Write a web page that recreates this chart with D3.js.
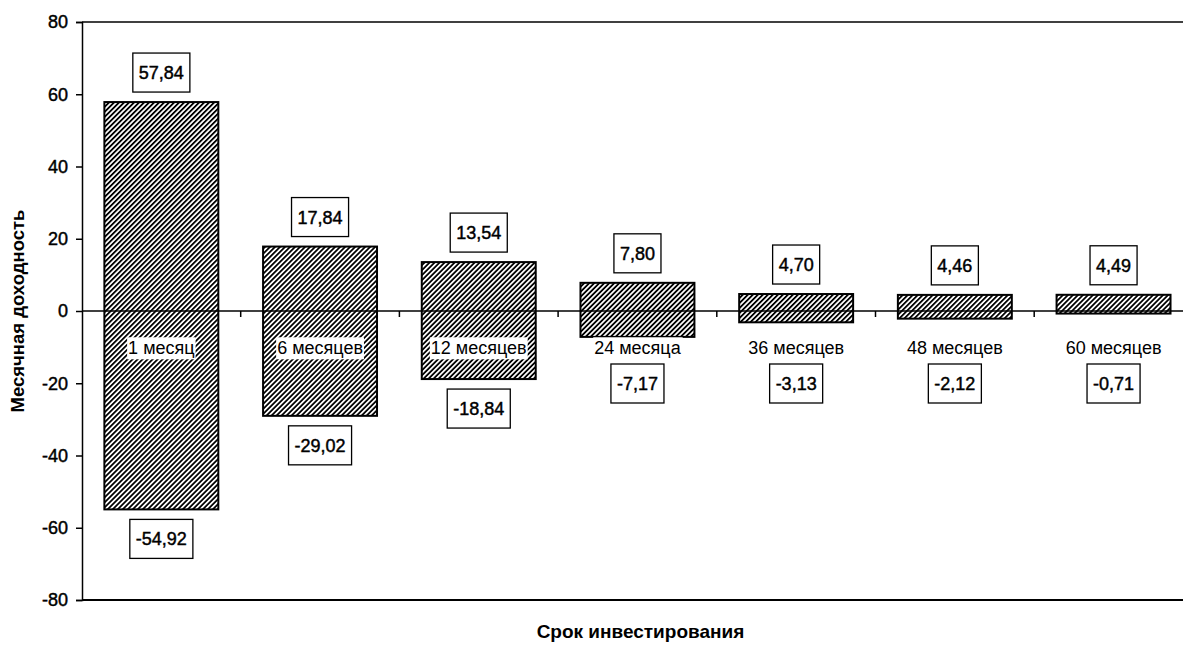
<!DOCTYPE html>
<html>
<head>
<meta charset="utf-8">
<script src="https://cdn.jsdelivr.net/npm/d3@7"></script>
<style>
  body { margin: 0; background: #fff; }
  svg { font-family: "Liberation Sans", Arial, sans-serif; display: block; }
</style>
</head>
<body>
<svg id="chart" width="1183" height="645"></svg>
<script>
// данные
var categories = ["1 месяц", "6 месяцев", "12 месяцев", "24 месяца", "36 месяцев", "48 месяцев", "60 месяцев"];
var maxValues = [57.84, 17.84, 13.54, 7.80, 4.70, 4.46, 4.49];
var minValues = [-54.92, -29.02, -18.84, -7.17, -3.13, -2.12, -0.71];
var yTicks = [-80, -60, -40, -20, 0, 20, 40, 60, 80];

var svg = d3.select("#chart");
var width = +svg.attr("width");
var height = +svg.attr("height");

var padding = { top: 22, bottom: 45, left: 82 };
var plotRight = padding.left + 7 * 158.7; // область построения выходит за край картинки

var data = categories.map(function(c, i){
    return { cat: c, max: maxValues[i], min: minValues[i] };
});

var xScale = d3.scaleBand()
    .domain(categories)
    .range([padding.left, plotRight])
    .paddingInner(0.282)
    .paddingOuter(0.141);

var yScale = d3.scaleLinear()
    .domain([-80, 80])
    .range([height - padding.bottom, padding.top]);

var fmt = function(v){ return v.toFixed(2).replace(".", ","); };

// штриховка
var defs = svg.append("defs");
var pat = defs.append("pattern")
    .attr("id", "hatch")
    .attr("patternUnits", "userSpaceOnUse")
    .attr("width", 3.54)
    .attr("height", 3.54)
    .attr("patternTransform", "rotate(45)");
pat.append("rect").attr("width", 3.54).attr("height", 3.54).attr("fill", "#fff");
pat.append("rect").attr("width", 1.8).attr("height", 3.54).attr("fill", "#000");

// рамка области построения (верх и низ)
svg.append("line")
    .attr("x1", padding.left).attr("x2", plotRight)
    .attr("y1", yScale(80)).attr("y2", yScale(80))
    .attr("stroke", "#404040").attr("stroke-width", 2);
svg.append("line")
    .attr("x1", padding.left).attr("x2", plotRight)
    .attr("y1", yScale(-80)).attr("y2", yScale(-80))
    .attr("stroke", "#000").attr("stroke-width", 2);

// ось Y
var yAxis = d3.axisLeft(yScale)
    .tickValues(yTicks)
    .tickSize(6)
    .tickPadding(8)
    .tickFormat(function(d){ return String(d); }); // дефис, а не юникодный минус
var gy = svg.append("g")
    .attr("transform", "translate(" + padding.left + ",0)")
    .call(yAxis);
gy.select(".domain").attr("stroke", "#000").attr("stroke-width", 1.5);
gy.selectAll(".tick line").attr("stroke", "#000").attr("stroke-width", 1.5);
gy.selectAll(".tick text")
    .attr("fill", "#000")
    .attr("stroke", "#000")
    .attr("stroke-width", 0.45)
    .style("font-size", "18px")
    .style("font-family", "'Liberation Sans', Arial, sans-serif");

// столбцы
svg.selectAll(".bar")
    .data(data)
    .enter()
    .append("rect")
    .classed("bar", true)
    .attr("x", function(d){ return xScale(d.cat); })
    .attr("width", xScale.bandwidth())
    .attr("y", function(d){ return yScale(d.max); })
    .attr("height", function(d){ return yScale(d.min) - yScale(d.max); })
    .attr("fill", "url(#hatch)")
    .attr("stroke", "#000")
    .attr("stroke-width", 2);

// ось X на нуле
var y0 = yScale(0);
svg.append("line")
    .attr("x1", padding.left).attr("x2", plotRight)
    .attr("y1", y0).attr("y2", y0)
    .attr("stroke", "#000").attr("stroke-width", 1.5);
var step = xScale.step();
d3.range(1, 7).forEach(function(i){
    var x = padding.left + i * step;
    svg.append("line")
        .attr("x1", x).attr("x2", x)
        .attr("y1", y0).attr("y2", y0 + 6)
        .attr("stroke", "#000").attr("stroke-width", 1.5);
});

// подписи категорий с белым фоном
var catG = svg.selectAll(".cat")
    .data(data)
    .enter()
    .append("g")
    .classed("cat", true)
    .attr("transform", function(d){
        return "translate(" + (xScale(d.cat) + xScale.bandwidth() / 2) + "," + (y0 + 37) + ")";
    });
catG.append("rect").attr("fill", "#fff");
catG.append("text")
    .attr("text-anchor", "middle")
    .attr("dy", "0.35em")
    .style("font-size", "18px")
    .attr("fill", "#000")
    .text(function(d){ return d.cat; });
catG.each(function(){
    var g = d3.select(this);
    var bb = g.select("text").node().getBBox();
    g.select("rect")
        .attr("x", bb.x - 1).attr("y", bb.y - 1)
        .attr("width", bb.width + 2).attr("height", bb.height + 2);
});

// подписи значений в рамках
function addLabel(d, value, isTop){
    var cx = xScale(d.cat) + xScale.bandwidth() / 2;
    var boxH = 39;
    var top;
    if (isTop) {
        top = yScale(value) - 10 - boxH;
    } else {
        top = Math.max(yScale(value) + 10, y0 + 53);
    }
    var g = svg.append("g").classed("value-label", true);
    var t = g.append("text")
        .attr("x", cx)
        .attr("y", top + boxH / 2)
        .attr("dy", "0.36em")
        .attr("text-anchor", "middle")
        .style("font-size", "18px")
        .attr("fill", "#000")
        .attr("stroke", "#000")
        .attr("stroke-width", 0.45)
        .text(fmt(value));
    var w = t.node().getBBox().width + 12;
    g.insert("rect", "text")
        .attr("x", cx - w / 2)
        .attr("y", top)
        .attr("width", w)
        .attr("height", boxH)
        .attr("fill", "#fff")
        .attr("stroke", "#000")
        .attr("stroke-width", 1.3);
}
data.forEach(function(d){
    addLabel(d, d.max, true);
    addLabel(d, d.min, false);
});

// заголовки осей
svg.append("text")
    .attr("transform", "rotate(-90)")
    .attr("x", -y0)
    .attr("y", 18)
    .attr("dy", "0.35em")
    .attr("text-anchor", "middle")
    .style("font-size", "18.5px")
    .style("font-weight", "bold")
    .text("Месячная доходность");

svg.append("text")
    .attr("x", (padding.left + plotRight) / 2 + 3)
    .attr("y", 631)
    .attr("dy", "0.35em")
    .attr("text-anchor", "middle")
    .style("font-size", "19px")
    .style("font-weight", "bold")
    .text("Срок инвестирования");
</script>
</body>
</html>
